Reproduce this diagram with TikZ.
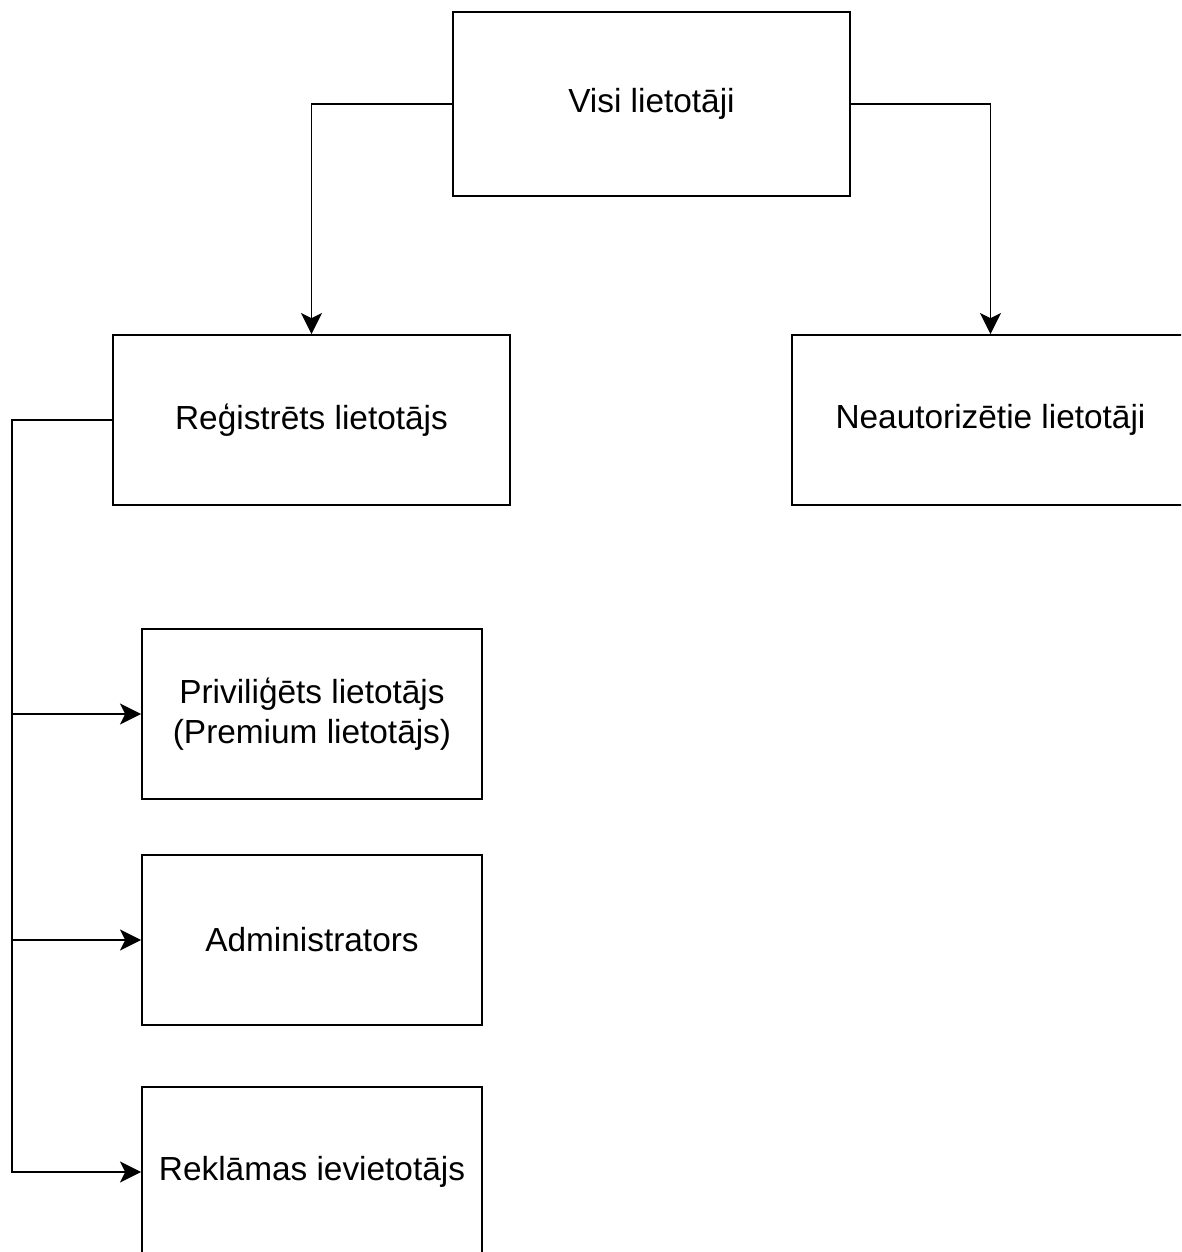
\documentclass[tikz,border=0pt]{standalone}
\usepackage{fontspec}
\setmainfont{Liberation Sans}
\usetikzlibrary{arrows.meta, positioning}

\begin{document}
\begin{tikzpicture}[
  x=0.02cm, y=-0.02cm,
  >={Stealth[length=12pt, width=12pt, inset=3pt]},
  font=\fontsize{19}{22.7}\selectfont,
  role/.style={draw, line width=1.1pt, inner sep=2pt, align=center,
               minimum width=7.94cm, minimum height=3.4cm},
  subrole/.style={role, minimum width=6.8cm},
  arr/.style={line width=1.1pt, ->}
]
  \useasboundingbox (0,0) rectangle (1181,1252);
  \clip (0,0) rectangle (1181,1252);

  \node[role, minimum height=3.68cm] (visi) at (651.5,104) {Visi lietotāji};
  \node[role] (reg) at (311.5,420) {Reģistrēts lietotājs};
  \node[role] (neaut) at (990.5,420) {Neautorizētie lietotāji};

  \node[subrole] (priv) at (312,714) {Priviliģēts lietotājs\\(Premium lietotājs)};
  \node[subrole] (admin) at (312,940) {Administrators};
  \node[subrole] (rekl) at (312,1172) {Reklāmas ievietotājs};

  \draw[arr] (visi.west) -| (reg.north);
  \draw[arr] (visi.east) -| (neaut.north);

  % registered users branch out
  \coordinate (trunk) at (12,420);
  \draw[arr] (reg.west) -- (trunk) |- (rekl.west);
  \draw[arr] (trunk |- priv.west) -- (priv.west);
  \draw[arr] (trunk |- admin.west) -- (admin.west);
\end{tikzpicture}
\end{document}
